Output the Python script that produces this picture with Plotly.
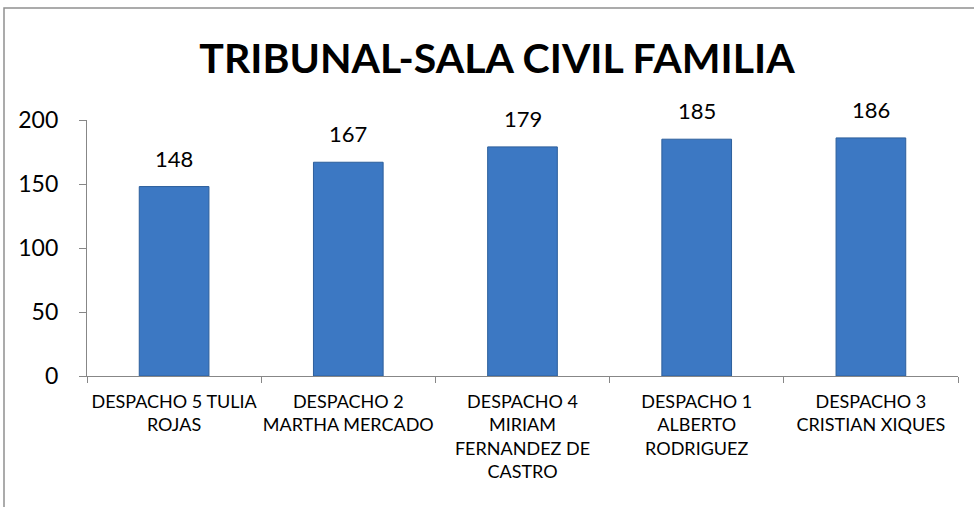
import plotly.graph_objects as go

categories = [
    "DESPACHO 5 TULIA<br>ROJAS",
    "DESPACHO 2<br>MARTHA MERCADO",
    "DESPACHO 4<br>MIRIAM<br>FERNANDEZ DE<br>CASTRO",
    "DESPACHO 1<br>ALBERTO<br>RODRIGUEZ",
    "DESPACHO 3<br>CRISTIAN XIQUES",
]
values = [148, 167, 179, 185, 186]
y_ticks = [0, 50, 100, 150, 200]

FONT = "Lato, 'Open Sans', sans-serif"
W, H = 974, 507
ML, MR, MT, MB = 87, 16, 120, 131

fig = go.Figure()
fig.add_trace(go.Bar(
    x=categories, y=values,
    width=0.40,
    marker=dict(color="#3c78c3", line=dict(color="#2d5f9c", width=1)),
    hoverinfo="x+y",
))

for c, v in zip(categories, values):
    fig.add_annotation(x=c, y=v, text=str(v), showarrow=False,
                       yanchor="bottom", yshift=13,
                       font=dict(family=FONT, size=22, color="#000000"))

pw = W - ML - MR
ph = H - MT - MB
fig.add_shape(type="rect", xref="paper", yref="paper",
              x0=(4 - ML) / pw, x1=(980 - ML) / pw,
              y0=(H - MB - 515) / ph, y1=(H - MB - 8) / ph,
              line=dict(color="#909090", width=1.5), fillcolor="rgba(0,0,0,0)",
              layer="below")

fig.update_layout(
    width=W, height=H,
    margin=dict(l=ML, r=MR, t=MT, b=MB, autoexpand=False),
    paper_bgcolor="white", plot_bgcolor="white",
    showlegend=False,
    title=dict(text="<b>TRIBUNAL-SALA CIVIL FAMILIA</b>",
               x=497 / W, xanchor="center", xref="container",
               y=1 - 59 / H, yanchor="middle", yref="container",
               font=dict(family=FONT, size=41, color="#000000")),
    font=dict(family=FONT, color="#000000"),
)
fig.update_xaxes(
    showline=True, linecolor="#878787", linewidth=1.3,
    ticks="outside", tickson="boundaries", ticklen=6, tickcolor="#878787",
    tickfont=dict(family=FONT, size=18, color="#000000"),
    tickangle=0, automargin=False,
    ticklabelstandoff=9,
    showgrid=False, zeroline=False,
)
fig.update_yaxes(
    range=[0, 200], tickvals=y_ticks,
    showline=True, linecolor="#878787", linewidth=1.3,
    ticks="outside", ticklen=7, tickcolor="#878787",
    tickfont=dict(family=FONT, size=23, color="#000000"),
    automargin=False,
    ticklabelstandoff=16,
    showgrid=False, zeroline=False,
)

fig.write_html("out.html", config={"displayModeBar": False},
               post_script="document.body.style.margin='0px';")
